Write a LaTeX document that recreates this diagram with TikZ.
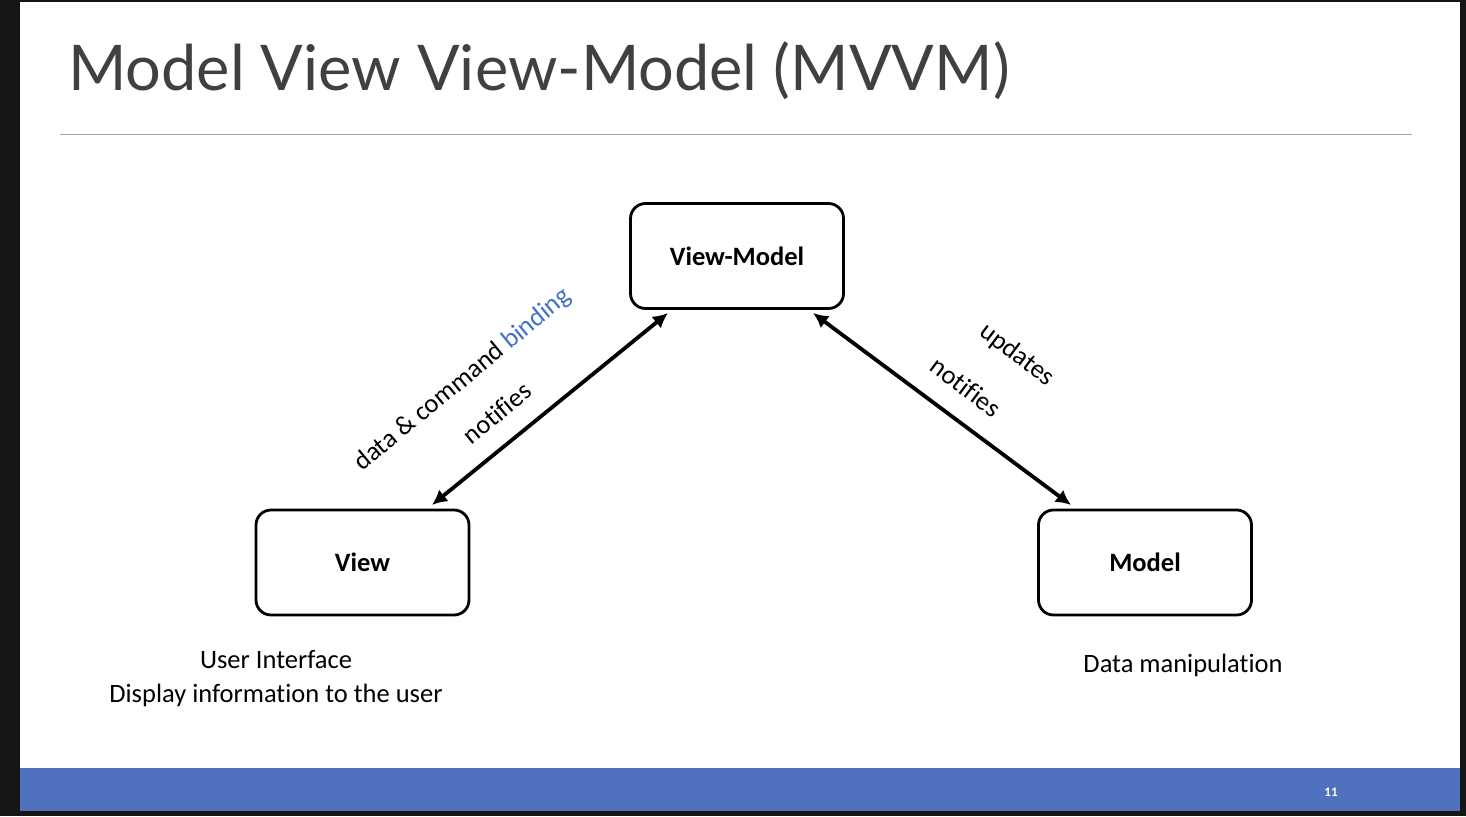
\documentclass[tikz,border=0pt]{standalone}
\usepackage{fontspec}
\setmainfont{Carlito}[Ligatures=NoCommon]
\newfontfamily\titlefont{Lato}
\usetikzlibrary{arrows.meta}
\definecolor{framebk}{HTML}{151515}
\definecolor{titlegray}{HTML}{404040}
\definecolor{rulegray}{HTML}{A6A6A6}
\definecolor{barblue}{HTML}{4F71BE}
\definecolor{bindblue}{HTML}{4472C4}
\tikzset{
  box/.style={draw=black, line width=2.8pt, rounded corners=15pt, fill=white,
    minimum width=213pt, minimum height=105pt, font=\fontsize{26.5}{30}\selectfont\bfseries},
  conn/.style={line width=3.8pt, {Latex[length=15pt,width=15pt]}-{Latex[length=15pt,width=15pt]}},
  lbl/.style={font=\fontsize{26.5}{34}\selectfont},
}
\begin{document}
\begin{tikzpicture}[x=1pt,y=-1pt]
\useasboundingbox (0,0) rectangle (1466,816);
\fill[framebk] (0,0) rectangle (1466,816);
\fill[white] (20,2) rectangle (1460,768);
\fill[barblue] (20,768) rectangle (1460,811);
\node[white, font=\fontsize{13}{15}\selectfont\bfseries] (pg) at (1331,792) {11};
\node[titlegray, anchor=base west, inner sep=0pt, font=\titlefont\fontsize{63}{70}\selectfont] (title) at (68,90) {Model View View-Model (MVVM)};
\coordinate (rl) at (60,134);
\coordinate (rr) at (1412,134);
\draw[rulegray, line width=1pt] (rl) -- (rr);

\node[box] (vm) at (737,256) {View-Model};
\node[box] (v) at (362.5,562.5) {View};
\node[box] (m) at (1145,562.5) {Model};

\coordinate (a1) at (432,505);
\coordinate (a2) at (668,313);
\coordinate (b1) at (813,313);
\coordinate (b2) at (1071,505);
\draw[conn] (a1) -- (a2);
\draw[conn] (b1) -- (b2);

\node[lbl, rotate=39.5, inner sep=0pt] (dcb) at (463,380) {data \& command \textcolor{bindblue}{binding}};
\node[lbl, rotate=39.5, inner sep=0pt] (n1) at (497,413) {notifies};
\node[lbl, rotate=-37, inner sep=0pt] (up) at (1017,355) {updates};
\node[lbl, rotate=-37, inner sep=0pt] (n2) at (966,387) {notifies};

\node[lbl, align=center] (vt) at (276,679) {User Interface\\Display information to the user};
\node[lbl] (mt) at (1183,665) {Data manipulation};
\end{tikzpicture}
\end{document}
